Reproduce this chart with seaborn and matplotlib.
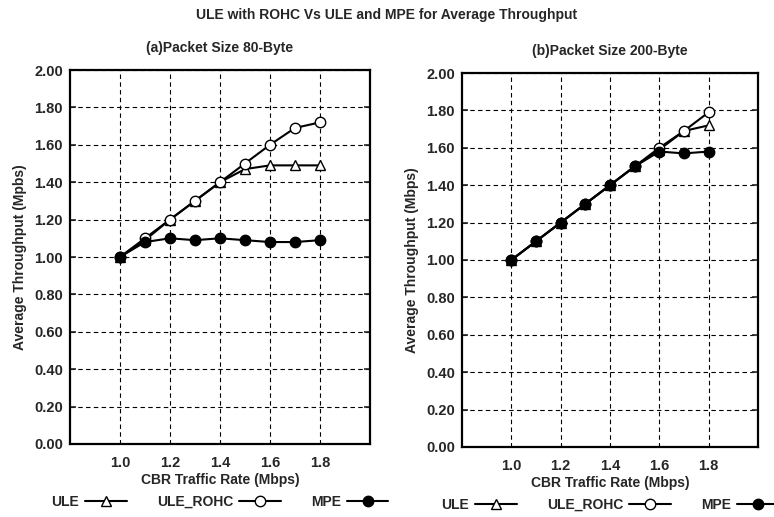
import numpy as np
import pandas as pd
import matplotlib
matplotlib.use('Agg')
import matplotlib.pyplot as plt
import seaborn as sns

# data
rate = [1.0, 1.1, 1.2, 1.3, 1.4, 1.5, 1.6, 1.7, 1.8]
x_ticks = [1.0, 1.2, 1.4, 1.6, 1.8]
y_ticks = [0.0, 0.2, 0.4, 0.6, 0.8, 1.0, 1.2, 1.4, 1.6, 1.8, 2.0]

ule_80 = [1.00, 1.09, 1.20, 1.30, 1.40, 1.47, 1.49, 1.49, 1.49]
rohc_80 = [1.00, 1.10, 1.20, 1.30, 1.40, 1.50, 1.60, 1.69, 1.72]
mpe_80 = [1.00, 1.08, 1.10, 1.09, 1.10, 1.09, 1.08, 1.08, 1.09]

ule_200 = [1.00, 1.10, 1.20, 1.30, 1.40, 1.50, 1.59, 1.69, 1.72]
rohc_200 = [1.00, 1.10, 1.20, 1.30, 1.40, 1.50, 1.60, 1.69, 1.79]
mpe_200 = [1.00, 1.10, 1.20, 1.30, 1.40, 1.50, 1.58, 1.57, 1.58]

series_names = ['ULE', 'ULE_ROHC', 'MPE']
markers = {'ULE': '^', 'ULE_ROHC': 'o', 'MPE': 'o'}
faces = {'ULE': 'white', 'ULE_ROHC': 'white', 'MPE': 'black'}

sns.set_style('white')
plt.rcParams['font.family'] = ['Liberation Sans', 'DejaVu Sans']
plt.rcParams['font.weight'] = 'bold'

fig = plt.figure(figsize=(7.74, 5.17), dpi=100)
ax1 = fig.add_axes([0.0904, 0.1412, 0.3876, 0.7234])
ax2 = fig.add_axes([0.5969, 0.1354, 0.3824, 0.7234])

panels = [
    (ax1, [ule_80, rohc_80, mpe_80], '(a)Packet Size 80-Byte', 'Average Throughput (Mpbs)'),
    (ax2, [ule_200, rohc_200, mpe_200], '(b)Packet Size 200-Byte', 'Average Throughput (Mbps)'),
]

for ax, vals, title, ylab in panels:
    df = pd.DataFrame({'rate': rate * 3,
                       'tput': vals[0] + vals[1] + vals[2],
                       'series': np.repeat(series_names, len(rate))})
    for name in series_names:
        sub = df[df['series'] == name]
        sns.lineplot(data=sub, x='rate', y='tput', ax=ax, color='black',
                     linewidth=1.5, marker=markers[name], markersize=7.5,
                     markerfacecolor=faces[name], markeredgecolor='black',
                     markeredgewidth=1.0, label=name)
    ax.set_xlim(0.8, 2.0)
    ax.set_ylim(0, 2.0)
    ax.set_xticks(x_ticks)
    ax.set_xticklabels([f'{t:.1f}' for t in x_ticks])
    ax.set_yticks(y_ticks)
    ax.set_yticklabels([f'{t:.2f}' for t in y_ticks])
    ax.grid(True, color='black', linestyle=(0, (4, 3)), linewidth=0.8)
    ax.tick_params(axis='y', labelsize=10.5, direction='in', length=4,
                   left=True, right=True, width=1.2, pad=5)
    ax.tick_params(axis='x', labelsize=10.5, length=0, pad=9)
    for sp in ax.spines.values():
        sp.set_linewidth(1.6)
        sp.set_color('black')
    ax.set_xlabel('CBR Traffic Rate (Mbps)', fontsize=10, fontweight='bold', labelpad=2)
    ax.set_ylabel(ylab, fontsize=10, fontweight='bold', labelpad=5)
    ax.set_title(title, fontsize=10, fontweight='bold', pad=13)
    ax.legend(loc='center', bbox_to_anchor=(0.5, -0.155), ncol=3,
              frameon=False, markerfirst=False, fontsize=10,
              handlelength=3.0, handletextpad=0.4, columnspacing=2.2)

fig.suptitle('ULE with ROHC Vs ULE and MPE for Average Throughput',
             fontsize=10, fontweight='bold', y=0.985)

fig.savefig('out.png', dpi=100)
